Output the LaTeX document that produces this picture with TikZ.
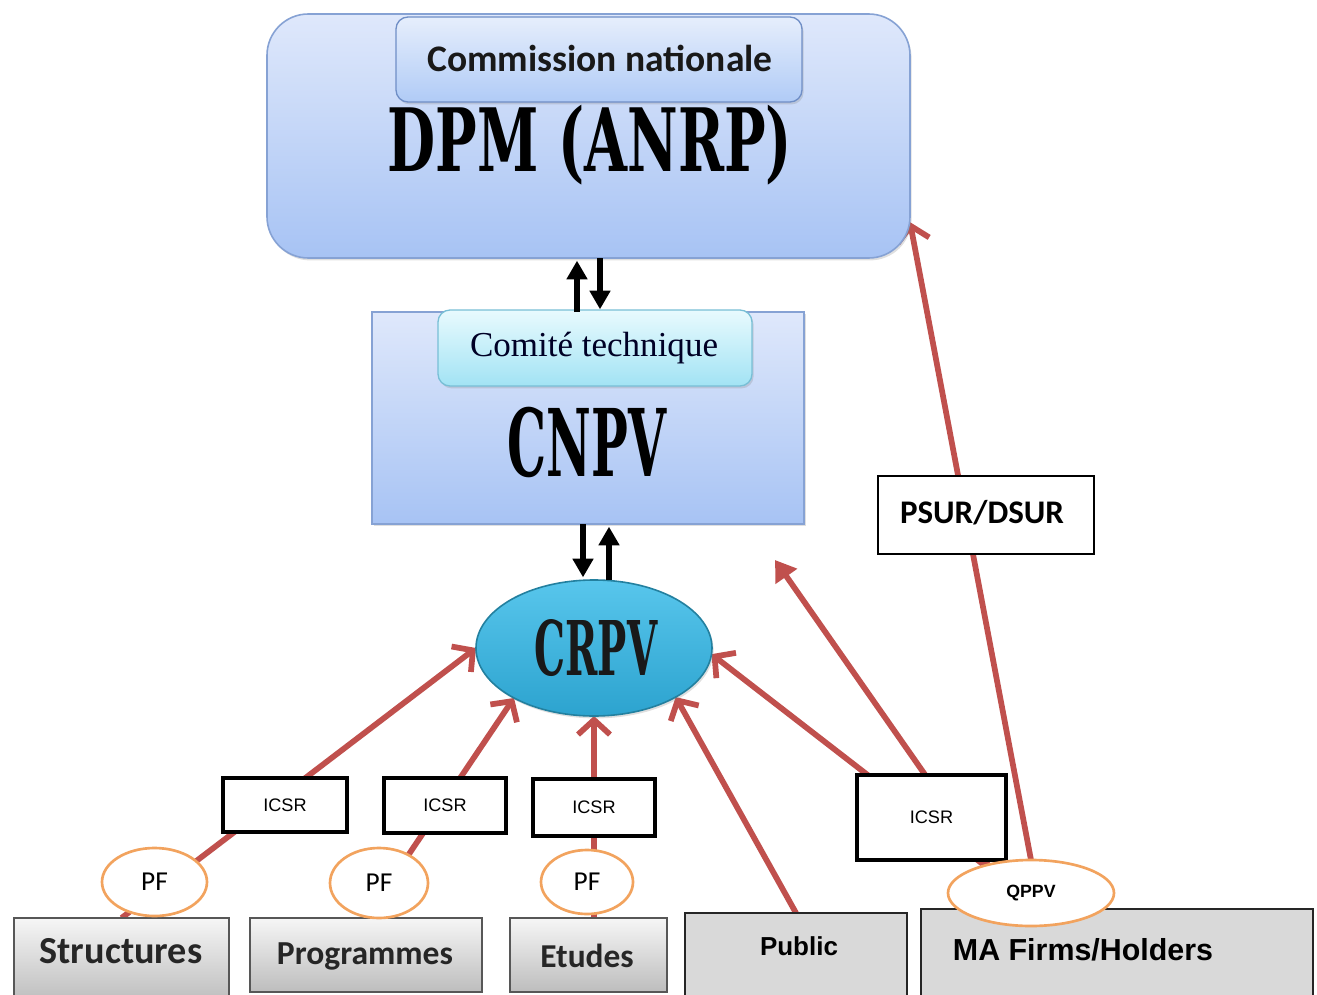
\documentclass[tikz,border=0pt]{standalone}
\usepackage{fontspec}
\usepackage{graphicx}
\setmainfont{Liberation Serif}
\newfontfamily\calfont{Carlito}
\newfontfamily\arifont{Liberation Sans}
\newfontfamily\heavyfont{DejaVu Serif}
\usetikzlibrary{shapes.geometric,arrows.meta,calc,shadows}
\pgfdeclarelayer{bg}\pgfsetlayers{bg,main}
\definecolor{redl}{HTML}{C0504D}
\definecolor{orangel}{HTML}{F2A35E}
\definecolor{blueT}{HTML}{DFE8FB}
\definecolor{blueB}{HTML}{A7C3F4}
\definecolor{blueD}{HTML}{86A2D4}
\definecolor{cnT}{HTML}{E6EEFC}
\definecolor{cnB}{HTML}{B0CBF6}
\definecolor{cnD}{HTML}{6F8EC6}
\definecolor{ctT}{HTML}{E8FAFE}
\definecolor{ctB}{HTML}{A2E3F4}
\definecolor{ctD}{HTML}{78BFD6}
\definecolor{crT}{HTML}{58C6EC}
\definecolor{crB}{HTML}{2CA3CF}
\definecolor{crD}{HTML}{23809F}
\definecolor{grT}{HTML}{F6F6F6}
\definecolor{grB}{HTML}{BDBDBD}
\definecolor{grD}{HTML}{575757}
\definecolor{grF}{HTML}{D9D9D9}
\def\u{0.75pt}
\tikzset{
  every node/.style={inner sep=0pt, outer sep=0pt},
  shad/.style={drop shadow={opacity=0.25, shadow xshift=1.2pt, shadow yshift=-1.8pt}},
  dpmbox/.style={rectangle, rounded corners=31pt, draw=blueD, line width=1.2pt, top color=blueT, bottom color=blueB, shad},
  cnpvbox/.style={rectangle, draw=blueD, line width=1.2pt, top color=blueT, bottom color=blueB, shad},
  cnbox/.style={rectangle, rounded corners=9pt, draw=cnD, line width=1pt, top color=cnT, bottom color=cnB, shad},
  ctbox/.style={rectangle, rounded corners=9pt, draw=ctD, line width=1pt, top color=ctT, bottom color=ctB, shad},
  crell/.style={ellipse, draw=crD, line width=1.2pt, top color=crT, bottom color=crB, shad},
  redarrow/.style={draw=redl, line width=4.3pt, -{Straight Barb[length=11pt,width=24pt]}},
  redfill/.style={draw=redl, line width=4.3pt, -{Triangle[length=15pt,width=19pt]}},
  blkarrow/.style={line width=4.6pt, -{Triangle[length=14pt,width=15pt]}, shorten >=2pt},
  icsr/.style={rectangle, draw=black, line width=3pt, fill=white, font=\arifont\fontsize{13.6}{16}\selectfont},
  psurbox/.style={rectangle, draw=black, line width=2.2pt, fill=white},
  pfell/.style={ellipse, draw=orangel, line width=2pt, fill=white, font=\calfont\fontsize{20.5}{24}\selectfont},
  graybox/.style={rectangle, draw=grD, line width=1.5pt, top color=grT, bottom color=grB},
  flatbox/.style={rectangle, draw=black!85, line width=1.5pt, fill=grF},
}
\begin{document}
\begin{tikzpicture}[x=0.75pt, y=-0.75pt]
\useasboundingbox (0,0) rectangle (1317,995);

% top block
\node[dpmbox, minimum width=643*\u, minimum height=244*\u] (dpm) at (588.5,136) {};
\node[cnbox, minimum width=406*\u, minimum height=85*\u] (cn) at (599,59.5) {};
\node[text=black!90] (cnt) at (600,58) {\resizebox{259pt}{!}{\calfont\bfseries Commission nationale}};
\node (dpmt) at (590,145) {\resizebox*{303pt}{60pt}{\heavyfont\bfseries DPM (ANRP)}};

% middle block
\node[cnpvbox, minimum width=432*\u, minimum height=212*\u] (cnpv) at (588,418) {};
\node[ctbox, minimum width=314*\u, minimum height=76*\u] (ct) at (595,348) {};
\node[text=black!85!blue] (ctt) at (594,348) {\resizebox{186pt}{!}{Comité technique}};
\node (cnpvt) at (587,442) {\resizebox{119pt}{52pt}{\heavyfont\bfseries CNPV}};

% CRPV
\node[crell, minimum width=236*\u, minimum height=136*\u] (crpv) at (594,648) {};
\node[text=black!90] (crpvt) at (596,648) {\resizebox{92pt}{42pt}{\heavyfont\bfseries CRPV}};

% PSUR
\node[psurbox, minimum width=216*\u, minimum height=78*\u] (psur) at (986,515) {};
\node (psurt) at (982,513) {\resizebox{123pt}{!}{\calfont\bfseries PSUR/DSUR}};

% ICSR boxes
\node[icsr, minimum width=124*\u, minimum height=54*\u] (i1) at (285,805) {ICSR};
\node[icsr, minimum width=122*\u, minimum height=55*\u] (i2) at (445,805.5) {ICSR};
\node[icsr, minimum width=122*\u, minimum height=57*\u] (i3) at (594,807.5) {ICSR};
\node[icsr, minimum width=149*\u, minimum height=85*\u] (i4) at (931.5,817.5) {ICSR};

% bottom boxes
\node[graybox, minimum width=215*\u, minimum height=84*\u] (st) at (121.5,960) {};
\node[graybox, minimum width=232*\u, minimum height=74*\u] (pr) at (366,955) {};
\node[graybox, minimum width=157*\u, minimum height=74*\u] (et) at (588.5,955) {};
\node[flatbox, minimum width=222*\u, minimum height=90*\u] (pu) at (796,958) {};
\node[flatbox, minimum width=392*\u, minimum height=94*\u] (ma) at (1117,956) {};
\node[text=black!85] (stt) at (121,951) {\resizebox{122pt}{!}{\calfont\bfseries Structures}};
\node[text=black!85] (prt) at (365,956) {\resizebox{132pt}{!}{\calfont\bfseries Programmes}};
\node[text=black!85] (ett) at (587,956) {\resizebox{70pt}{!}{\calfont\bfseries Etudes}};
\node (put) at (799,946) {\resizebox{58.5pt}{!}{\arifont\bfseries Public}};
\node (mat) at (1083,950) {\resizebox{195pt}{!}{\arifont\bfseries MA Firms/Holders}};

% PF and QPPV ellipses
\node[pfell, minimum width=105*\u, minimum height=68*\u] (pf1) at (154.5,882) {PF};
\node[pfell, minimum width=98*\u, minimum height=70*\u] (pf2) at (379,883) {PF};
\node[pfell, minimum width=92*\u, minimum height=64*\u] (pf3) at (587,882) {PF};
\node[pfell, minimum width=166*\u, minimum height=66*\u, font=\arifont\bfseries\fontsize{13.3}{16}\selectfont] (qppv) at (1031,893) {\raisebox{-3pt}{QPPV}};

% free ends
\coordinate (qs) at (993,872);
\coordinate (tip) at (775,560);

% red connectors (behind)
\begin{pgfonlayer}{bg}
\draw[redarrow] (st.north) -- (crpv.180);
\draw[redarrow] (pr.north) -- (crpv.212);
\draw[redarrow] (crpv.south |- et.north) -- (crpv.south);
\draw[redarrow] (pu.north) -- (crpv.329);
\draw[redarrow] (qs) -- (crpv.357);
\draw[redfill] (qs) -- (tip);
\draw[redarrow] (qppv.north) -- (dpm.-15);
\end{pgfonlayer}

% black arrows
\coordinate (a1) at ($(cnpv.north)+(-11,0)$);
\coordinate (a2) at ($(cnpv.north)+(12,0)$);
\draw[blkarrow] (a1) -- (a1 |- dpm.south);
\draw[blkarrow] (a2 |- dpm.south) -- (a2);
\coordinate (b1) at ($(cnpv.south)+(-5,0)$);
\coordinate (b2) at ($(cnpv.south)+(21,0)$);
\draw[blkarrow] (b1) -- (b1 |- crpv.north);
\draw[blkarrow] (b2 |- crpv.north) -- (b2);
\end{tikzpicture}
\end{document}
